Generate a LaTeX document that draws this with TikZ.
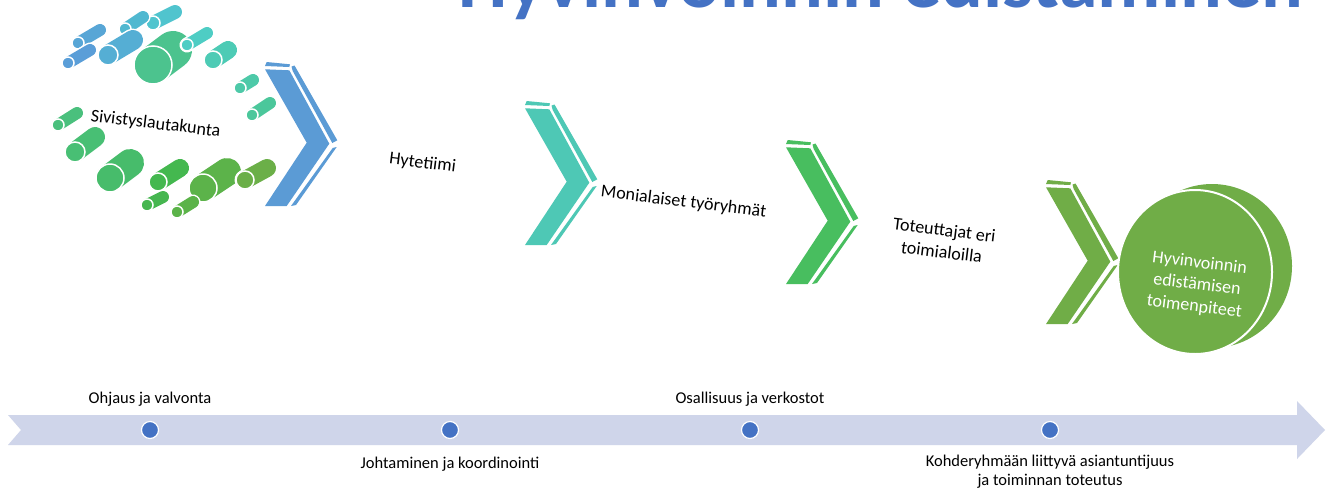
\documentclass[tikz,border=0pt]{standalone}
\usepackage{fontspec}
\setmainfont{Carlito}
\definecolor{tlband}{HTML}{CFD5EA}
\definecolor{tldot}{HTML}{4472C4}
\definecolor{titleblue}{HTML}{4472C4}
\definecolor{chblue}{HTML}{5B9BD5}
\definecolor{chteal}{HTML}{4EC8B5}
\definecolor{chgreen}{HTML}{48BE5F}
\definecolor{cholive}{HTML}{70AD47}
\newcommand\mychev[3]{%
  \begin{scope}[shift={(#1,#2)}]
    \fill[#3] (1.7,0) -- (25,2.3) -- (24.3,5) -- (0,4) -- cycle;
    \fill[#3] (0,7.3) -- (24.3,8.3) -- (64.3,81.7) -- (21.7,144) -- (0,144) -- (41.7,80.7) -- cycle;
    \fill[#3] (26.5,4.5) -- (29.5,3.5) -- (72.3,78.3) -- (67.3,81) -- (27.7,9) -- cycle;
    \fill[#3] (67.7,86) -- (71.7,85) -- (31,143) -- (26,144) -- cycle;
  \end{scope}}
\newcommand\mycyl[6]{%
  \definecolor{cyltmp}{HTML}{#6}%
  \draw[white, line width={2*#3+3}, line cap=round] (#1,#2) -- (#4,#5);
  \draw[cyltmp, line width={2*#3}, line cap=round] (#1,#2) -- (#4,#5);
  \filldraw[fill=cyltmp, draw=white, line width=1.5] (#1,#2) circle (#3);}
\begin{document}
\begin{tikzpicture}[x=1pt,y=-1pt,
  tllabel/.style={font=\fontsize{16.5}{19}\selectfont, anchor=base, inner sep=0pt, align=center},
  rlabel/.style={font=\fontsize{18}{22}\selectfont, rotate=-7, inner sep=0pt, align=center},
  tldotstyle/.style={circle, fill=tldot, draw=white, line width=1.2pt, minimum size=17pt, inner sep=0pt},
  titlestyle/.style={font=\fontsize{78}{80}\selectfont\bfseries, text=titleblue, anchor=base, inner sep=0pt}]
\useasboundingbox (0,0) rectangle (1332,493);
\fill[white] (0,0) rectangle (1332,493);

% title (cut off by the top edge)
\node[titlestyle] (title) at (881,7) {Hyvinvoinnin edistäminen};

% cylinder cluster
\mycyl{153}{23}{7}{175}{12}{50C4CE}
\mycyl{125}{29}{6}{143}{17}{50B8D0}
\mycyl{78}{43}{6}{100}{30}{58A6D6}
\mycyl{108}{55}{10}{133}{40}{55AED4}
\mycyl{68}{63}{6}{90}{50}{5A9ED8}
\mycyl{153}{65}{19}{173}{50}{4CC38E}
\mycyl{187}{45}{6}{207}{33}{4ECDC4}
\mycyl{213}{60}{9}{228}{50}{4DCBB5}
\mycyl{240}{88}{6}{253}{80}{4DC9A8}
\mycyl{252}{115}{6}{270}{103}{4BC79B}
\mycyl{58}{125}{6}{77}{113}{4AC07D}
\mycyl{75}{152}{10}{95}{137}{48BF74}
\mycyl{110}{178}{14}{130}{163}{47BC6B}
\mycyl{158}{182}{9}{180}{168}{44B84F}
\mycyl{147}{205}{6}{163}{197}{46B650}
\mycyl{203}{188}{14}{227}{172}{5CB34A}
\mycyl{177}{212}{6}{193}{202}{5BB349}
\mycyl{245}{180}{9}{267}{168}{6BAF48}

% chevrons
\mychev{265}{62}{chblue}
\mychev{525}{101}{chteal}
\mychev{786}{140}{chgreen}
\mychev{1046}{180}{cholive}

% final disc
\fill[cholive] (1212,266) ellipse (80 and 82);
\filldraw[fill=cholive, draw=white, line width=2pt] (1195,272) ellipse (77 and 82);

% step labels
\node[rlabel, anchor=base] (sivis) at (155,129) {Sivistyslautakunta};
\node[rlabel, anchor=base] (hyte) at (422,168) {Hytetiimi};
\node[rlabel, anchor=base] (moni) at (683,207) {Monialaiset työryhmät};
\node[rlabel] (toteut) at (943,241) {Toteuttajat eri\\toimialoilla};
\node[rlabel, text=white] (toimen) at (1197,285) {Hyvinvoinnin\\edistämisen\\toimenpiteet};

% timeline band
\fill[tlband] (8,415) -- (1297,415) -- (1297,401) -- (1325,430) -- (1297,459) -- (1297,445) -- (8,445) -- (21,430) -- cycle;
\node[tldotstyle] (d1) at (150,430) {};
\node[tldotstyle] (d2) at (450,430) {};
\node[tldotstyle] (d3) at (750,430) {};
\node[tldotstyle] (d4) at (1050,430) {};

\node[tllabel] (l1) at (150,403) {Ohjaus ja valvonta};
\node[tllabel] (l2) at (450,468) {Johtaminen ja koordinointi};
\node[tllabel] (l3) at (750,403) {Osallisuus ja verkostot};
\node[tllabel, anchor=north] (l4) at (1050,455) {Kohderyhmään liittyvä asiantuntijuus\\ja toiminnan toteutus};
\end{tikzpicture}
\end{document}
